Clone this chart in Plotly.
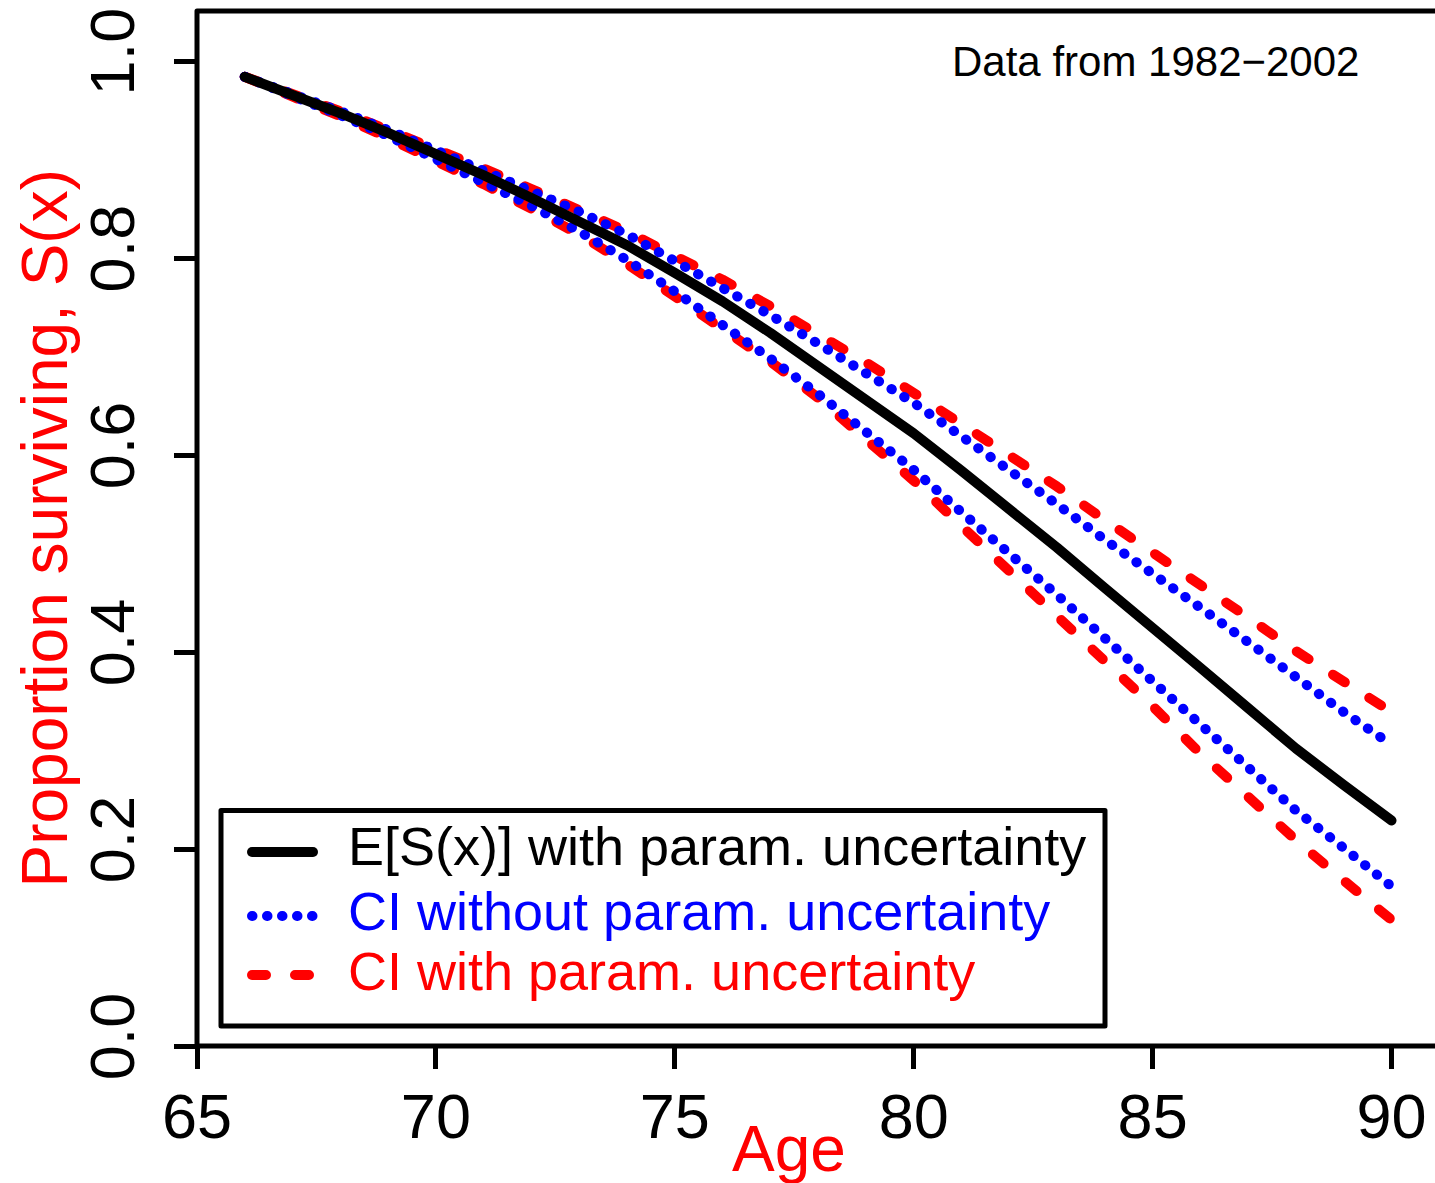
import plotly.graph_objects as go

# ---------------- data ----------------
ages = list(range(66, 91))

mean_S = [0.984, 0.966, 0.947, 0.927, 0.906, 0.884, 0.861, 0.838, 0.813, 0.785,
          0.756, 0.724, 0.691, 0.657, 0.622, 0.584, 0.546, 0.506, 0.465, 0.426,
          0.384, 0.343, 0.302, 0.265, 0.229]

ci_noparam_hi = [0.984, 0.967, 0.949, 0.930, 0.910, 0.889, 0.868, 0.847, 0.824, 0.797,
                 0.770, 0.742, 0.713, 0.684, 0.653, 0.619, 0.586, 0.550, 0.514, 0.481,
                 0.445, 0.410, 0.373, 0.339, 0.306]
ci_noparam_lo = [0.984, 0.965, 0.945, 0.924, 0.901, 0.878, 0.853, 0.827, 0.798, 0.766,
                 0.733, 0.698, 0.662, 0.625, 0.585, 0.542, 0.501, 0.458, 0.414, 0.370,
                 0.324, 0.280, 0.239, 0.201, 0.162]

ci_param_hi = [0.984, 0.967, 0.949, 0.930, 0.911, 0.891, 0.870, 0.849, 0.827, 0.802,
               0.778, 0.751, 0.723, 0.694, 0.663, 0.632, 0.601, 0.568, 0.534, 0.502,
               0.468, 0.435, 0.401, 0.369, 0.339]
ci_param_lo = [0.984, 0.965, 0.944, 0.922, 0.899, 0.875, 0.850, 0.824, 0.794, 0.762,
               0.729, 0.695, 0.658, 0.617, 0.574, 0.528, 0.483, 0.436, 0.390, 0.345,
               0.297, 0.252, 0.209, 0.168, 0.128]

x_tick_vals = [65, 70, 75, 80, 85, 90]
x_tick_text = ["65", "70", "75", "80", "85", "90"]
y_tick_vals = [0.0, 0.2, 0.4, 0.6, 0.8, 1.0]
y_tick_text = ["0.0", "0.2", "0.4", "0.6", "0.8", "1.0"]

legend_names = ["E[S(x)] with param. uncertainty",
                "CI without param. uncertainty",
                "CI with param. uncertainty"]
note_text = "Data from 1982\u22122002"
x_title = "Age"
y_title = "Proportion surviving, S(x)"

# ---------------- styling ----------------
FONT = "Liberation Sans, Arial, Helvetica, sans-serif"
BLUE = "#0000FF"
RED = "#FF0000"
BLACK = "#000000"
DOT = "0.5px,14.5px"
DASH = "14px,29px"
LW = 10

# plot-area geometry in page pixels
PL, PT, PR, PB = 197, 11, 1435, 1046
FIG_W, FIG_H = 1435, 1183


def px_x(px):
    return (px - PL) / (PR - PL)


def px_y(py):
    return (PB - py) / (PB - PT)


fig = go.Figure()

# red dashed CI (drawn first, beneath)
for ys in (ci_param_hi, ci_param_lo):
    fig.add_trace(go.Scatter(x=ages, y=ys, mode="lines",
                             line=dict(color=RED, width=LW, dash=DASH),
                             name=legend_names[2], showlegend=False))
# blue dotted CI
for ys in (ci_noparam_hi, ci_noparam_lo):
    fig.add_trace(go.Scatter(x=ages, y=ys, mode="lines",
                             line=dict(color=BLUE, width=LW, dash=DOT),
                             name=legend_names[1], showlegend=False))
# black mean
fig.add_trace(go.Scatter(x=ages, y=mean_S, mode="lines",
                         line=dict(color=BLACK, width=LW),
                         name=legend_names[0], showlegend=False))

axis_common = dict(
    showline=False,
    ticks="outside", ticklen=22, tickwidth=5, tickcolor="black",
    showgrid=False, zeroline=False, automargin=False,
    tickfont=dict(family=FONT, size=63, color="black"),
)

# plot frame (open on the right, where the figure is cropped)
shapes = [dict(type="rect", xref="paper", yref="paper",
               x0=0, x1=px_x(1445), y0=0, y1=1,
               line=dict(color="black", width=5), layer="above")]

# ---------------- legend (drawn as a boxed key) ----------------
shapes.append(dict(type="rect", xref="paper", yref="paper",
                   x0=px_x(221), x1=px_x(1105), y0=px_y(1026), y1=px_y(810.5),
                   line=dict(color="black", width=5), fillcolor="white", layer="above"))
legend_rows = [(852, 845.5, BLACK, "solid", legend_names[0]),
               (916, 910.5, BLUE, DOT, legend_names[1]),
               (975, 970.5, RED, DASH, legend_names[2])]
annotations = []
for line_y, text_y, col, dash, label in legend_rows:
    shapes.append(dict(type="line", xref="paper", yref="paper",
                       x0=px_x(252), x1=px_x(313), y0=px_y(line_y), y1=px_y(line_y),
                       line=dict(color=col, width=LW, dash=dash), layer="above"))
    annotations.append(dict(text=label, xref="paper", yref="paper",
                            x=px_x(346), y=px_y(text_y), xanchor="left", yanchor="middle",
                            showarrow=False, font=dict(family=FONT, size=54, color=col)))

annotations += [
    dict(text=note_text, xref="paper", yref="paper", x=px_x(1361), y=px_y(62),
         xanchor="right", yanchor="middle", showarrow=False,
         font=dict(family=FONT, size=42, color="black")),
    dict(text=x_title, xref="paper", yref="paper", x=px_x(789), y=px_y(1149),
         xanchor="center", yanchor="middle", showarrow=False,
         font=dict(family=FONT, size=64, color=RED)),
    dict(text=y_title, xref="paper", yref="paper", x=px_x(44), y=0.5,
         xanchor="center", yanchor="middle", showarrow=False, textangle=-90,
         font=dict(family=FONT, size=64, color=RED)),
]

fig.update_layout(
    width=FIG_W, height=FIG_H,
    margin=dict(l=PL, r=FIG_W - PR, t=PT, b=FIG_H - PB, pad=0),
    paper_bgcolor="white", plot_bgcolor="white",
    font=dict(family=FONT, color="black"),
    xaxis=dict(range=[65, 90.91], tickmode="array", tickvals=x_tick_vals,
               ticktext=x_tick_text, ticklabelstandoff=-7, **axis_common),
    yaxis=dict(range=[0, 1.0508], tickmode="array", tickvals=y_tick_vals,
               ticktext=y_tick_text, tickangle=-90, ticklabelstandoff=15,
               **axis_common),
    showlegend=False,
    shapes=shapes,
    annotations=annotations,
)

post_js = ("document.body.style.margin='0';"
           "document.documentElement.style.overflow='hidden';"
           "var s=document.createElement('style');"
           "s.innerHTML='.js-line, .shapelayer path{stroke-linecap:round;stroke-linejoin:round;}';"
           "document.head.appendChild(s);")

fig.write_html("out.html", post_script=post_js, config={"displayModeBar": False})
